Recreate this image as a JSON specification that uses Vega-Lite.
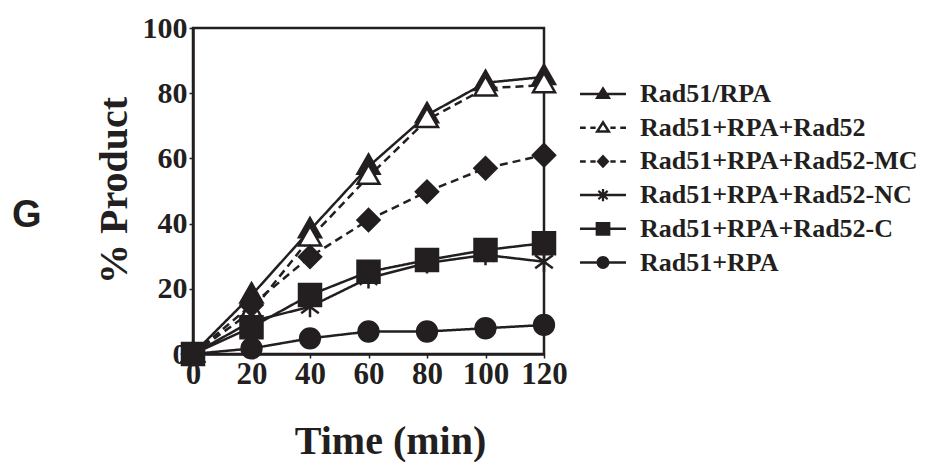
{
  "$schema": "https://vega.github.io/schema/vega-lite/v6.json",
  "autosize": {"type": "none"},
  "width": 351,
  "height": 326,
  "padding": {"left": 193, "top": 28, "right": 383, "bottom": 108},
  "background": "white",
  "title": {
    "text": "G",
    "orient": "top",
    "anchor": "start",
    "frame": "group",
    "font": "Liberation Sans",
    "fontSize": 38,
    "fontWeight": "bold",
    "color": "#231f20",
    "baseline": "alphabetic",
    "dx": -181,
    "dy": 252,
    "offset": 0
  },
  "config": {
    "view": {"stroke": "#231f20", "strokeWidth": 2.5},
    "axis": {
      "labelFont": "Liberation Serif",
      "labelFontWeight": "bold",
      "labelFontSize": 30,
      "labelColor": "#231f20",
      "titleFont": "Liberation Serif",
      "titleFontWeight": "bold",
      "titleFontSize": 40,
      "titleColor": "#231f20",
      "domainColor": "#231f20",
      "domainWidth": 2.5,
      "tickColor": "#231f20",
      "tickWidth": 1.5,
      "tickSize": 4,
      "grid": false,
      "labelOverlap": false,
      "labelFlush": false
    }
  },
  "data": {
    "values": [
      {"series": "Rad51/RPA", "time": 0, "pct": 0},
      {"series": "Rad51/RPA", "time": 20, "pct": 18},
      {"series": "Rad51/RPA", "time": 40, "pct": 38},
      {"series": "Rad51/RPA", "time": 60, "pct": 57.5},
      {"series": "Rad51/RPA", "time": 80, "pct": 73.3},
      {"series": "Rad51/RPA", "time": 100, "pct": 83.2},
      {"series": "Rad51/RPA", "time": 120, "pct": 85},
      {"series": "Rad51+RPA+Rad52", "time": 0, "pct": 0},
      {"series": "Rad51+RPA+Rad52", "time": 20, "pct": 13},
      {"series": "Rad51+RPA+Rad52", "time": 40, "pct": 35.5},
      {"series": "Rad51+RPA+Rad52", "time": 60, "pct": 54.4},
      {"series": "Rad51+RPA+Rad52", "time": 80, "pct": 71.8},
      {"series": "Rad51+RPA+Rad52", "time": 100, "pct": 81.5},
      {"series": "Rad51+RPA+Rad52", "time": 120, "pct": 82.5},
      {"series": "Rad51+RPA+Rad52-MC", "time": 0, "pct": 0},
      {"series": "Rad51+RPA+Rad52-MC", "time": 20, "pct": 15},
      {"series": "Rad51+RPA+Rad52-MC", "time": 40, "pct": 29.8},
      {"series": "Rad51+RPA+Rad52-MC", "time": 60, "pct": 41.1},
      {"series": "Rad51+RPA+Rad52-MC", "time": 80, "pct": 49.8},
      {"series": "Rad51+RPA+Rad52-MC", "time": 100, "pct": 57},
      {"series": "Rad51+RPA+Rad52-MC", "time": 120, "pct": 61},
      {"series": "Rad51+RPA+Rad52-NC", "time": 0, "pct": 0},
      {"series": "Rad51+RPA+Rad52-NC", "time": 20, "pct": 10},
      {"series": "Rad51+RPA+Rad52-NC", "time": 40, "pct": 14.5},
      {"series": "Rad51+RPA+Rad52-NC", "time": 60, "pct": 23.3},
      {"series": "Rad51+RPA+Rad52-NC", "time": 80, "pct": 27.9},
      {"series": "Rad51+RPA+Rad52-NC", "time": 100, "pct": 30.4},
      {"series": "Rad51+RPA+Rad52-NC", "time": 120, "pct": 28.3},
      {"series": "Rad51+RPA+Rad52-C", "time": 0, "pct": 0},
      {"series": "Rad51+RPA+Rad52-C", "time": 20, "pct": 8.2},
      {"series": "Rad51+RPA+Rad52-C", "time": 40, "pct": 18.1},
      {"series": "Rad51+RPA+Rad52-C", "time": 60, "pct": 25.2},
      {"series": "Rad51+RPA+Rad52-C", "time": 80, "pct": 28.8},
      {"series": "Rad51+RPA+Rad52-C", "time": 100, "pct": 31.9},
      {"series": "Rad51+RPA+Rad52-C", "time": 120, "pct": 34},
      {"series": "Rad51+RPA", "time": 0, "pct": 0},
      {"series": "Rad51+RPA", "time": 20, "pct": 1.7},
      {"series": "Rad51+RPA", "time": 40, "pct": 4.8},
      {"series": "Rad51+RPA", "time": 60, "pct": 6.9},
      {"series": "Rad51+RPA", "time": 80, "pct": 6.9},
      {"series": "Rad51+RPA", "time": 100, "pct": 7.9},
      {"series": "Rad51+RPA", "time": 120, "pct": 8.9}
    ]
  },
  "encoding": {
    "x": {
      "field": "time",
      "type": "quantitative",
      "scale": {"domain": [0, 120], "nice": false},
      "axis": {
        "values": [0, 20, 40, 60, 80, 100, 120],
        "title": "Time (min)",
        "labelFontSize": 31,
        "labelPadding": 1,
        "titleX": 197,
        "titleY": 99,
        "titleBaseline": "alphabetic",
        "titleAlign": "center"
      }
    },
    "y": {
      "field": "pct",
      "type": "quantitative",
      "scale": {"domain": [0, 100], "nice": false},
      "axis": {
        "values": [0, 20, 40, 60, 80, 100],
        "title": "% Product",
        "labelPadding": 2,
        "titleX": -79,
        "titleY": 162,
        "titleAngle": -90,
        "titleBaseline": "middle",
        "titleAlign": "center"
      }
    }
  },
  "layer": [
    {
      "mark": {"type": "line", "color": "#231f20", "strokeWidth": 2.5},
      "encoding": {
        "strokeDash": {
          "field": "series",
          "type": "nominal",
          "scale": {
            "domain": ["Rad51/RPA", "Rad51+RPA+Rad52", "Rad51+RPA+Rad52-MC", "Rad51+RPA+Rad52-NC", "Rad51+RPA+Rad52-C", "Rad51+RPA"],
            "range": [[1, 0], [8, 5], [8, 5], [1, 0], [1, 0], [1, 0]]
          },
          "legend": null
        }
      }
    },
    {
      "mark": {"type": "point", "filled": true, "size": 484, "stroke": "#231f20", "strokeWidth": 2.5, "opacity": 1},
      "encoding": {
        "shape": {
          "field": "series",
          "type": "nominal",
          "scale": {
            "domain": ["Rad51/RPA", "Rad51+RPA+Rad52", "Rad51+RPA+Rad52-MC", "Rad51+RPA+Rad52-NC", "Rad51+RPA+Rad52-C", "Rad51+RPA"],
            "range": [
              "M0,-1.1L1,0.65L-1,0.65Z",
              "M0,-1.1L1,0.65L-1,0.65Z",
              "diamond",
              "M-0.8,-0.6L0.8,0.6M-0.8,0.6L0.8,-0.6M0,-0.95V0.95",
              "square",
              "M-0.9,0A0.9,0.9 0 1 0 0.9,0A0.9,0.9 0 1 0 -0.9,0Z"
            ]
          },
          "legend": null
        },
        "fill": {
          "field": "series",
          "type": "nominal",
          "scale": {
            "domain": ["Rad51/RPA", "Rad51+RPA+Rad52", "Rad51+RPA+Rad52-MC", "Rad51+RPA+Rad52-NC", "Rad51+RPA+Rad52-C", "Rad51+RPA"],
            "range": ["#231f20", "white", "#231f20", "#231f20", "#231f20", "#231f20"]
          },
          "legend": null
        }
      }
    },
    {
      "mark": {"type": "point", "filled": true, "color": "#231f20", "opacity": 0},
      "encoding": {
        "shape": {
          "field": "series",
          "type": "nominal",
          "scale": {
            "domain": ["Rad51/RPA", "Rad51+RPA+Rad52", "Rad51+RPA+Rad52-MC", "Rad51+RPA+Rad52-NC", "Rad51+RPA+Rad52-C", "Rad51+RPA"],
            "range": [
              "M-2,-0.11H2V0.11H-2ZM0,-0.68L0.7,0.44L-0.7,0.44Z",
              "M-2,-0.11H-1.5V0.11H-2ZM-1.1,-0.11H-0.64V0.11H-1.1ZM0.64,-0.11H1.1V0.11H0.64ZM1.5,-0.11H2V0.11H1.5ZM0,-0.68L0.7,0.44L-0.7,0.44ZM0,-0.264L-0.304,0.22L0.304,0.22Z",
              "M-2,-0.11H-1.5V0.11H-2ZM-1.1,-0.11H-0.64V0.11H-1.1ZM0.64,-0.11H1.1V0.11H0.64ZM1.5,-0.11H2V0.11H1.5ZM0,-0.6L0.56,0L0,0.6L-0.56,0Z",
              "M-2,-0.11H2V0.11H-2ZM-0.1,-0.54H0.1V0.54H-0.1ZM-0.466,-0.286L-0.334,-0.434L0.466,0.286L0.334,0.434ZM-0.466,0.286L0.334,-0.434L0.466,-0.286L-0.334,0.434Z",
              "M-2,-0.11H2V0.11H-2ZM-0.64,-0.6H0.64V0.6H-0.64Z",
              "M-2,-0.11H2V0.11H-2ZM-0.56,0A0.56,0.56 0 1 1 0.56,0A0.56,0.56 0 1 1 -0.56,0Z"
            ]
          },
          "legend": {
            "title": null,
            "orient": "none",
            "legendX": 397,
            "legendY": 53,
            "padding": 0,
            "symbolSize": 529,
            "symbolStrokeWidth": 0,
            "symbolFillColor": "#231f20",
            "symbolOpacity": 1,
            "labelFont": "Liberation Serif",
            "labelFontWeight": "bold",
            "labelFontSize": 26,
            "labelColor": "#231f20",
            "labelOffset": 24,
            "labelLimit": 400,
            "rowPadding": 7.7
          }
        }
      }
    }
  ],
  "resolve": {"scale": {"shape": "independent"}}
}
